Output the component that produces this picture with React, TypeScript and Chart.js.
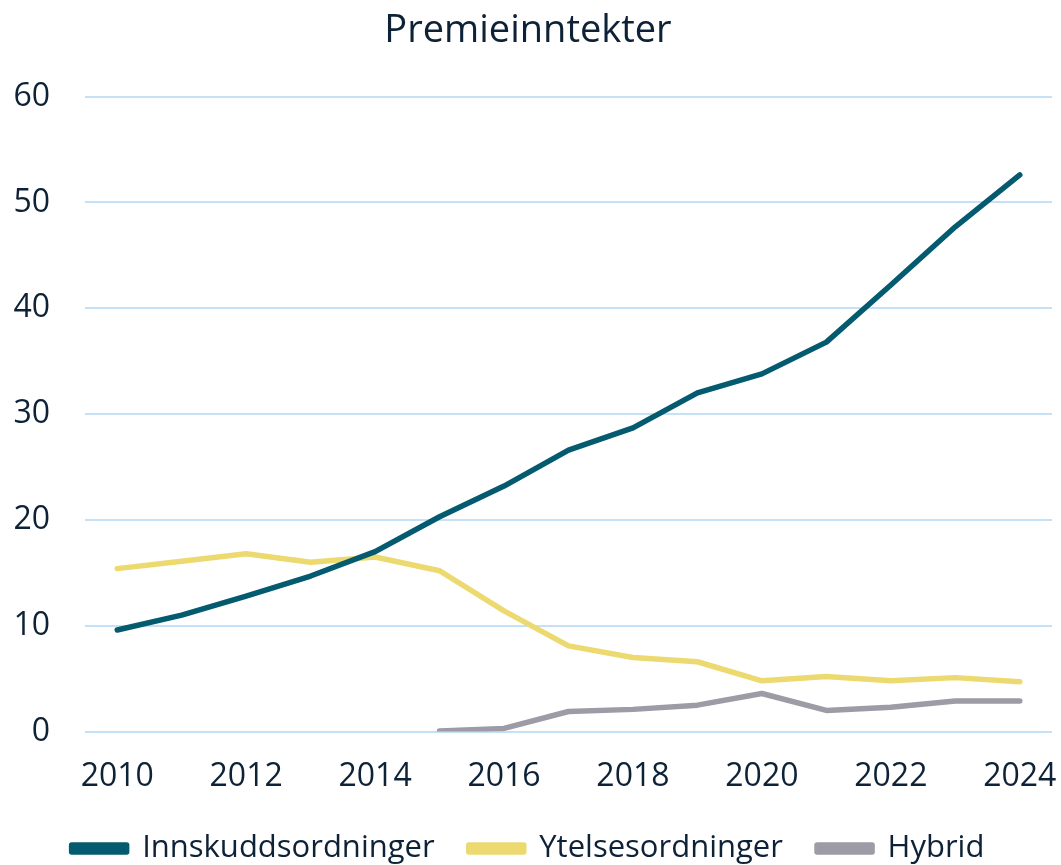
import React, { useEffect, useRef } from "react";
import { Chart, registerables } from "chart.js";

Chart.register(...registerables);

const years = ["2010","2011","2012","2013","2014","2015","2016","2017","2018","2019","2020","2021","2022","2023","2024"];
const innskudd = [9.6, 11.0, 12.8, 14.7, 17.0, 20.3, 23.2, 26.6, 28.7, 32.0, 33.8, 36.8, 42.2, 47.7, 52.6];
const ytelses = [15.4, 16.1, 16.8, 16.0, 16.5, 15.2, 11.4, 8.1, 7.0, 6.6, 4.8, 5.2, 4.8, 5.1, 4.7];
const hybrid = [null, null, null, null, null, 0.05, 0.3, 1.9, 2.1, 2.5, 3.6, 2.0, 2.3, 2.9, 2.9];

const FONT = "'Open Sans', sans-serif";
const TXT = "#0d2236";

const shiftLegend = {
  id: "shiftLegend",
  afterLayout(chart: any) {
    if (chart.legend) {
      chart.legend.top += 9;
      chart.legend.bottom += 9;
    }
  },
};

export default function App() {
  const ref = useRef<HTMLCanvasElement>(null);
  useEffect(() => {
    document.body.style.margin = "0";
    const chart = new Chart(ref.current!, {
      type: "line",
      plugins: [shiftLegend],
      data: {
        labels: years,
        datasets: [
          { label: "Innskuddsordninger", data: innskudd, borderColor: "#045a6e", backgroundColor: "#045a6e", borderWidth: 5.5, pointRadius: 0, borderCapStyle: "round", borderJoinStyle: "round", tension: 0 },
          { label: "Ytelsesordninger", data: ytelses, borderColor: "#ecda70", backgroundColor: "#ecda70", borderWidth: 5.5, pointRadius: 0, borderCapStyle: "round", borderJoinStyle: "round", tension: 0 },
          { label: "Hybrid", data: hybrid, borderColor: "#9c9ba6", backgroundColor: "#9c9ba6", borderWidth: 5.5, pointRadius: 0, borderCapStyle: "round", borderJoinStyle: "round", tension: 0 },
        ],
      },
      options: {
        animation: false,
        responsive: false,
        layout: { padding: { left: 4, right: 9, top: 6, bottom: 0 } },
        plugins: {
          title: { display: true, text: "Premieinntekter", color: TXT, font: { family: FONT, size: 38, weight: "normal" }, padding: { top: 2, bottom: 43 } },
          legend: {
            position: "bottom",
            labels: {
              color: TXT, font: { family: FONT, size: 31 }, boxWidth: 55, boxHeight: 7, padding: 10,
              generateLabels: (c: any) => {
                const items = Chart.defaults.plugins.legend.labels.generateLabels(c);
                return items.map((it: any, i: number) => ({ ...it, text: i < items.length - 1 ? it.text + "   " : it.text }));
              },
            },
          },
          tooltip: { enabled: false },
        },
        scales: {
          x: {
            offset: true,
            afterFit: (s: any) => { s.paddingLeft = 0; s.paddingRight = 0; },
            grid: { display: false },
            border: { display: false },
            ticks: {
              color: TXT, font: { family: FONT, size: 32 }, autoSkip: false, maxRotation: 0, padding: 18,
              callback: (v: any, i: number) => (i % 2 === 0 ? years[i] : ""),
            },
          },
          y: {
            min: 0, max: 60,
            afterFit: (s: any) => { s.width = 81; },
            grid: { color: "#c6e1f5", lineWidth: 2, drawTicks: false },
            border: { display: false },
            ticks: { stepSize: 10, color: TXT, font: { family: FONT, size: 32 }, padding: 35 },
          },
        },
      },
    });
    return () => chart.destroy();
  }, []);
  return (
    <div style={{ width: 1061, height: 865 }}>
      <canvas ref={ref} width={1061} height={865} />
    </div>
  );
}
